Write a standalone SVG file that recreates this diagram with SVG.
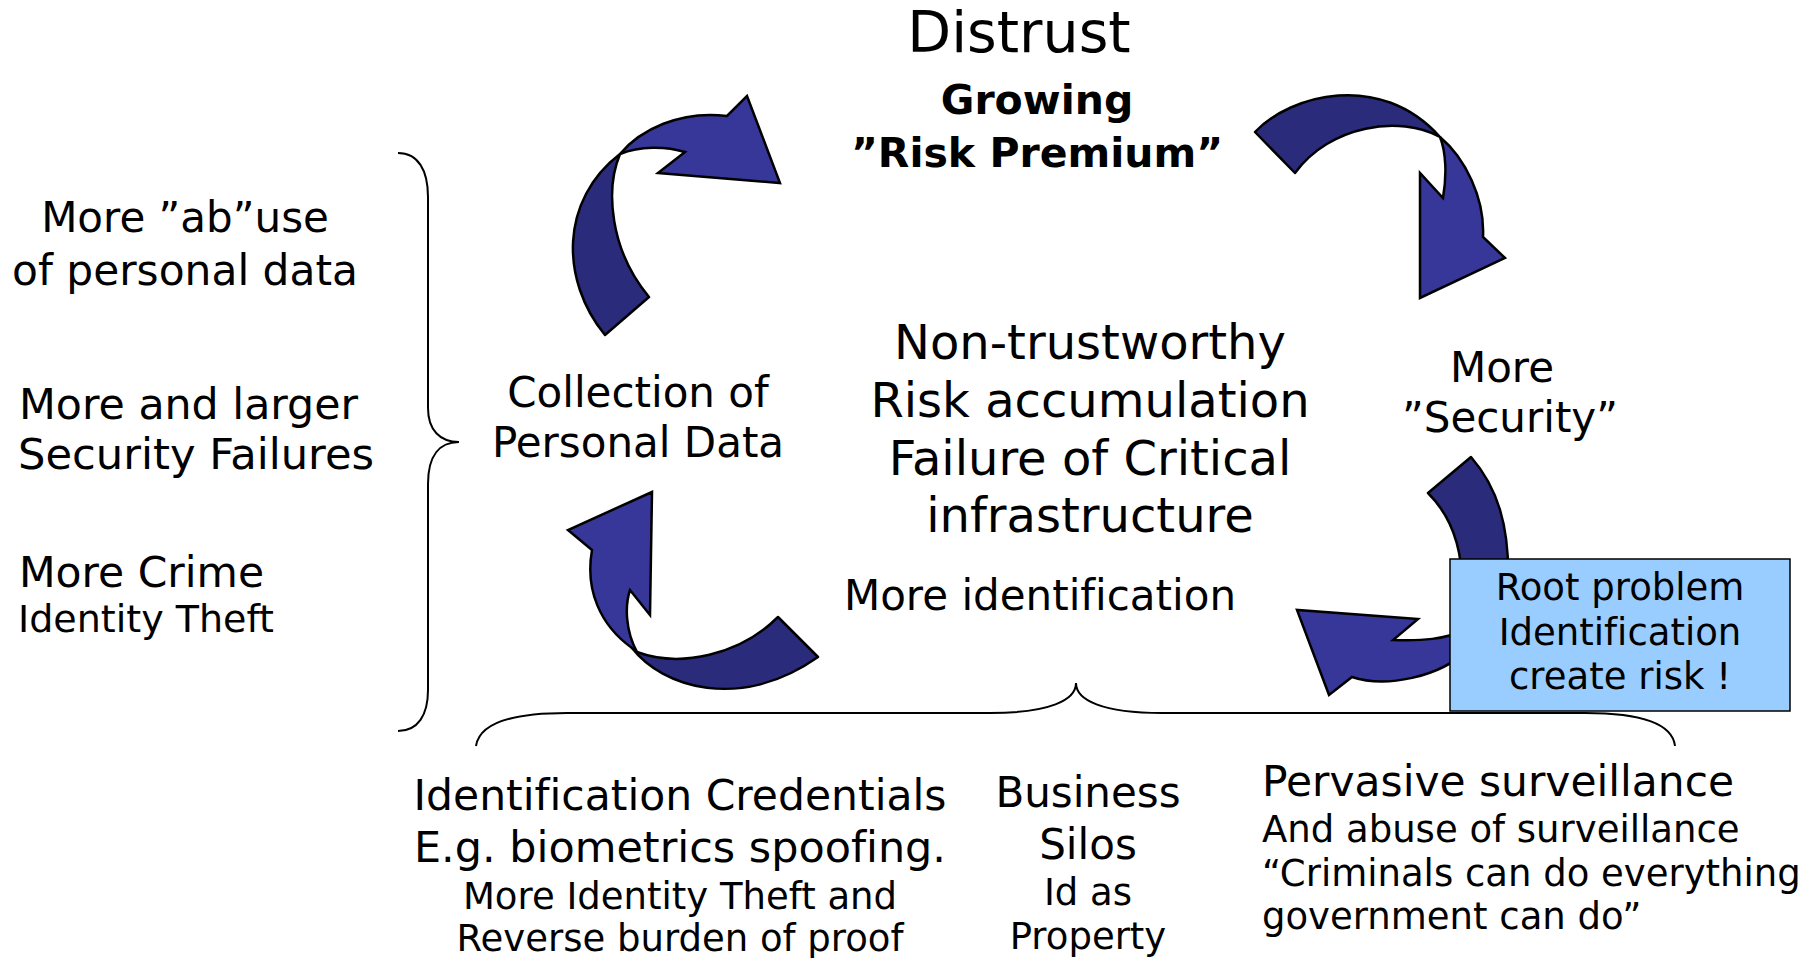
<svg xmlns="http://www.w3.org/2000/svg" width="1815" height="958" viewBox="0 0 1815 958">
<style>
.t{font-family:"DejaVu Sans",Verdana,sans-serif;fill:#000;font-variant-ligatures:none;font-feature-settings:"liga" 0}
.b{font-weight:bold}
.m{text-anchor:middle}
.back{fill:#2B2B7C;stroke:#000;stroke-width:2.5;stroke-linejoin:round}
.front{fill:#373799;stroke:#000;stroke-width:2.5;stroke-linejoin:miter}
.brace{fill:none;stroke:#000;stroke-width:2}
.box{fill:#99CCFF;stroke:#000;stroke-width:1.5}
</style>
<rect width="1815" height="958" fill="#fff"/>
<g id="connectors">
  <g id="arrow-top-left">
    <path class="back" d="M 605,335 C 560,280 560,200 620,154 C 605,190 610,250 649,297 Z"/>
    <path class="front" d="M 620,154 C 640,130 680,110 727,116 L 747,96 L 780,183 L 658,173 L 685,152 C 665,146 640,146 620,154 Z"/>
  </g>
  <g id="arrow-top-right">
    <path class="back" d="M 1255,132 C 1290,95 1380,70 1440,137 C 1400,115 1330,125 1295,173 Z"/>
    <path class="front" d="M 1440,137 C 1465,158 1485,198 1483,237 L 1505,258 L 1420,298 L 1420,173 L 1443,198 C 1447,175 1446,152 1440,137 Z"/>
  </g>
  <g id="arrow-bottom-right">
    <path class="back" d="M 1471,457 C 1497,487 1510,525 1508,585 L 1462,585 C 1462,545 1450,515 1428,493 Z"/>
    <path class="front" d="M 1470,628 C 1445,640 1420,641 1393,640 L 1418,619 L 1297,610 L 1329,695 L 1352,677 C 1385,688 1440,678 1470,648 Z"/>
  </g>
  <g id="arrow-bottom-left">
    <path class="back" d="M 632,648 C 662,687 740,712 818,657 L 778,617 C 740,655 680,668 637,652 Z"/>
    <path class="front" d="M 652,492 L 568,530 L 592,550 C 585,590 600,625 632,648 L 637,652 C 625,630 625,605 630,590 L 650,615 Z"/>
  </g>
</g>
<g id="braces">
  <path class="brace" d="M 398,153 C 418,153 428,170 428,197 L 428,408 C 428,430 440,442 459,442 C 440,442 428,455 428,484 L 428,690 C 428,715 418,731 398,731"/>
  <path class="brace" d="M 476,746 C 480,720 520,713 567,713 L 990,713 C 1050,713 1076,700 1076,683 C 1076,700 1102,713 1162,713 L 1585,713 C 1632,713 1672,720 1675,746"/>
</g>
<g id="node-distrust">
  <text class="t m" x="1019" y="52" font-size="57">Distrust</text>
  <text class="t b m" x="1037" y="114" font-size="41">Growing</text>
  <text class="t b m" x="1037" y="167" font-size="41">”Risk Premium”</text>
</g>
<g id="node-abuse">
  <text class="t m" x="185" y="232" font-size="42">More ”ab”use</text>
  <text class="t m" x="185" y="285" font-size="42" textLength="346" lengthAdjust="spacingAndGlyphs">of personal data</text>
</g>
<g id="node-failures">
  <text class="t" x="19" y="419" font-size="42" textLength="339" lengthAdjust="spacingAndGlyphs">More and larger</text>
  <text class="t" x="18" y="469" font-size="42" textLength="356" lengthAdjust="spacingAndGlyphs">Security Failures</text>
</g>
<g id="node-crime">
  <text class="t" x="19" y="587" font-size="42" textLength="245" lengthAdjust="spacingAndGlyphs">More Crime</text>
  <text class="t" x="18" y="632" font-size="37" textLength="256" lengthAdjust="spacingAndGlyphs">Identity Theft</text>
</g>
<g id="node-collection">
  <text class="t m" x="638" y="407" font-size="42">Collection of</text>
  <text class="t m" x="638" y="457" font-size="42">Personal Data</text>
</g>
<g id="node-center">
  <text class="t m" x="1090" y="359" font-size="48">Non-trustworthy</text>
  <text class="t m" x="1090" y="417" font-size="48">Risk accumulation</text>
  <text class="t m" x="1090" y="475" font-size="48">Failure of Critical</text>
  <text class="t m" x="1090" y="532" font-size="48">infrastructure</text>
</g>
<g id="node-identification">
  <text class="t m" x="1040" y="610" font-size="42">More identification</text>
</g>
<g id="node-security">
  <text class="t m" x="1502" y="382" font-size="42">More</text>
  <text class="t m" x="1510" y="432" font-size="42">”Security”</text>
</g>
<g id="node-root">
  <rect class="box" x="1450" y="559" width="340" height="152"/>
  <text class="t m" x="1620" y="600" font-size="37">Root problem</text>
  <text class="t m" x="1620" y="645" font-size="37">Identification</text>
  <text class="t m" x="1620" y="689" font-size="37">create risk !</text>
</g>
<g id="node-credentials">
  <text class="t m" x="680" y="810" font-size="42" textLength="533" lengthAdjust="spacingAndGlyphs">Identification Credentials</text>
  <text class="t m" x="680" y="862" font-size="42" textLength="532" lengthAdjust="spacingAndGlyphs">E.g. biometrics spoofing.</text>
  <text class="t m" x="680" y="909" font-size="37">More Identity Theft and</text>
  <text class="t m" x="680" y="951" font-size="37">Reverse burden of proof</text>
</g>
<g id="node-silos">
  <text class="t m" x="1088" y="807" font-size="42">Business</text>
  <text class="t m" x="1088" y="859" font-size="42">Silos</text>
  <text class="t m" x="1088" y="905" font-size="37">Id as</text>
  <text class="t m" x="1088" y="949" font-size="37">Property</text>
</g>
<g id="node-surveillance">
  <text class="t" x="1262" y="796" font-size="42" textLength="472" lengthAdjust="spacingAndGlyphs">Pervasive surveillance</text>
  <text class="t" x="1262" y="842" font-size="37">And abuse of surveillance</text>
  <text class="t" x="1262" y="886" font-size="37">“Criminals can do everything</text>
  <text class="t" x="1262" y="929" font-size="37">government can do”</text>
</g>
</svg>
